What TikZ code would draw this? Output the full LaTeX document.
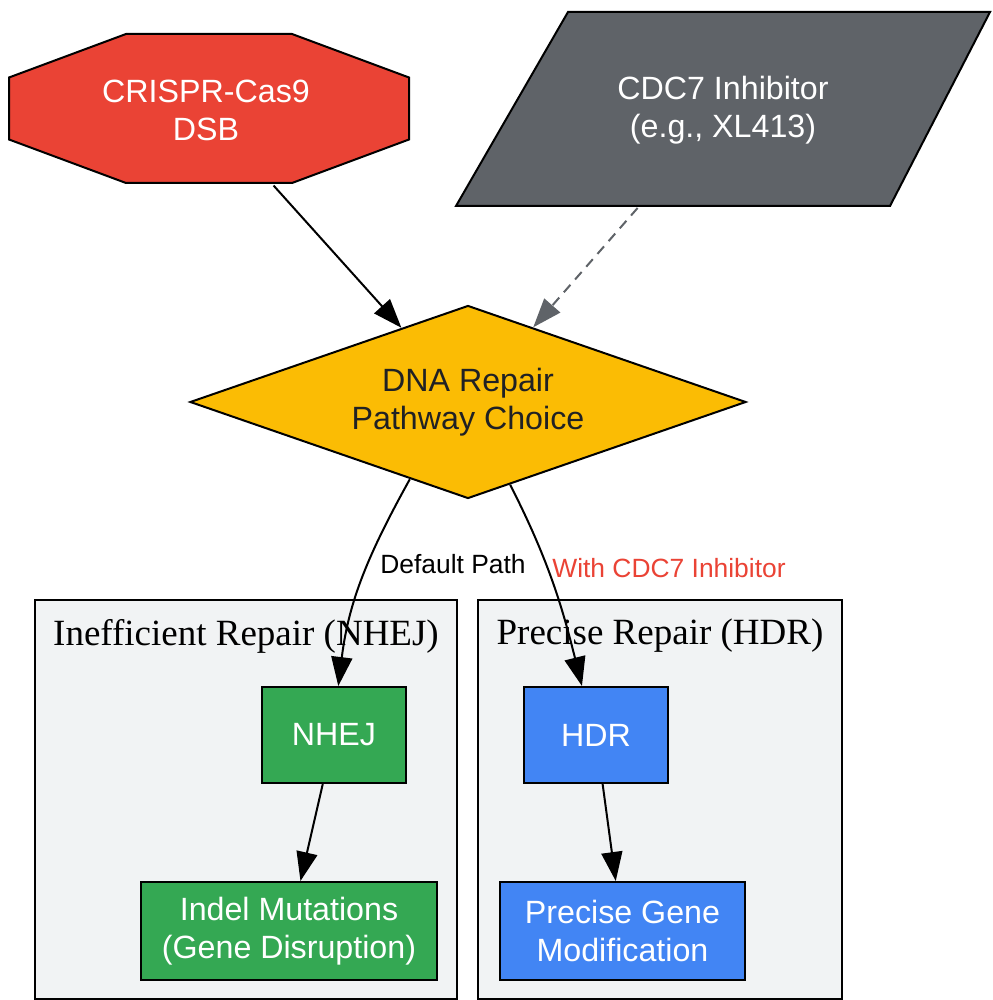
\documentclass[tikz,border=0pt]{standalone}
\usepackage{fontspec}
\setmainfont{Liberation Sans}
\newfontfamily\clusterfont{Liberation Serif}
\usetikzlibrary{shapes.geometric, arrows.meta}
\definecolor{casred}{HTML}{EA4335}
\definecolor{inhgrey}{HTML}{5F6368}
\definecolor{choiceyellow}{HTML}{FBBC04}
\definecolor{nhejgreen}{HTML}{34A853}
\definecolor{hdrblue}{HTML}{4285F4}
\definecolor{clustergrey}{HTML}{F1F3F4}
\definecolor{darktext}{HTML}{202124}

\begin{document}
\begin{tikzpicture}[x=1pt, y=1pt,
  box/.style={draw=black, line width=2pt, text=white, align=center, inner sep=0pt,
    font=\fontsize{32.2}{38}\selectfont},
  flowedge/.style={line width=2pt, -{Triangle[length=29pt, width=21pt]}},
  cluster/.style={fill=clustergrey, draw=black, line width=1.6pt},
  clustertitle/.style={font=\clusterfont\fontsize{37}{44}\selectfont},
  edgelabel/.style={font=\fontsize{26.4}{30}\selectfont}]
  \useasboundingbox (0,0) rectangle (992,-1000);

  % Grupos (clusters)
  \filldraw[cluster] (35,-600) rectangle (457,-999);
  \filldraw[cluster] (478,-600) rectangle (842,-999);
  \node[clustertitle] (titlenhej) at (246,-636) {Inefficient Repair (NHEJ)};
  \node[clustertitle] (titlehdr) at (660,-636) {Precise Repair (HDR)};

  % Octogono CRISPR-Cas9
  \begin{scope}[shift={(209,-108.5)}]
    \filldraw[fill=casred, draw=black, line width=2pt]
      (-200,-31) -- (-200,31) -- (-83,74.5) -- (83,74.5) -- (200,31)
      -- (200,-31) -- (83,-74.5) -- (-83,-74.5) -- cycle;
  \end{scope}
  \node[box, draw=none, minimum width=400, minimum height=149] (cas) at (206,-110)
    {CRISPR-Cas9\\DSB};

  % Inibidor (paralelogramo)
  \begin{scope}[shift={(723,-109)}]
    \filldraw[fill=inhgrey, draw=black, line width=2pt]
      (-267,-97) -- (-155,97) -- (267,97) -- (167,-97) -- cycle;
  \end{scope}
  \node[box, draw=none, minimum width=534, minimum height=194] (inh) at (723,-110)
    {CDC7 Inhibitor\\ (e.g., XL413)};

  % Escolha da via de reparo
  \node[box, fill=choiceyellow, text=darktext, diamond, aspect=2.88, minimum width=556,
    minimum height=193] (choice) at (468,-402) {DNA Repair\\Pathway Choice};

  % Caixas de reparo
  \node[box, fill=nhejgreen, minimum width=144, minimum height=96] (nhej) at (334,-735) {NHEJ};
  \node[box, fill=hdrblue, minimum width=144, minimum height=96] (hdr) at (596,-735) {HDR};
  \node[box, fill=nhejgreen, minimum width=296, minimum height=98] (indel) at (289,-931)
    {Indel Mutations\\(Gene Disruption)};
  \node[box, fill=hdrblue, minimum width=245, minimum height=98] (precise) at (622.5,-931)
    {Precise Gene\\Modification};

  % Setas
  \draw[flowedge] (cas) -- (choice);
  \draw[flowedge, inhgrey, dash pattern=on 10pt off 7pt] (inh) -- (choice);
  \draw[flowedge] (choice.233) to[out=241, in=83] (nhej.85);
  \draw[flowedge] (choice.-63) to[out=-63, in=104] (hdr.106);
  \draw[flowedge] (nhej) -- (indel);
  \draw[flowedge] (hdr) -- (precise);

  % Rotulos das setas
  \node[edgelabel] (labeldefault) at (453,-564) {Default Path};
  \node[edgelabel, text=casred] (labelinh) at (669,-568) {With CDC7 Inhibitor};
\end{tikzpicture}
\end{document}
